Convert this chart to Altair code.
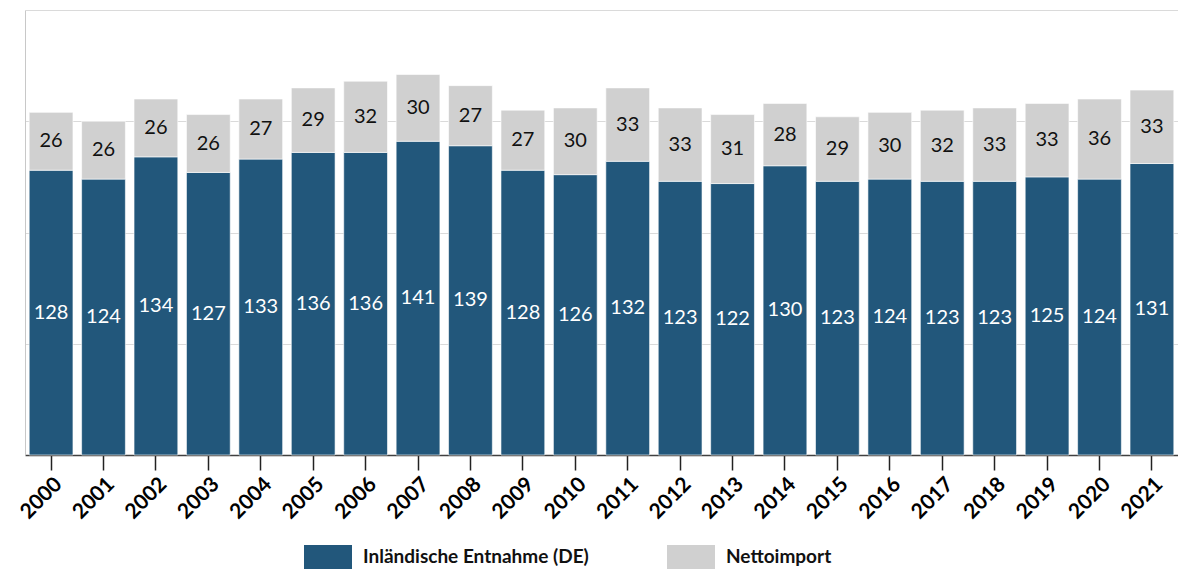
import altair as alt
import pandas as pd

years = [str(y) for y in range(2000, 2022)]
inland = [128, 124, 134, 127, 133, 136, 136, 141, 139, 128, 126, 132, 123, 122, 130, 123, 124, 123, 123, 125, 124, 131]
netimport = [26, 26, 26, 26, 27, 29, 32, 30, 27, 27, 30, 33, 33, 31, 28, 29, 30, 32, 33, 33, 36, 33]
series = ["Inländische Entnahme (DE)", "Nettoimport"]
colors = ["#22577b", "#d0d0d0"]
text_colors = ["#ffffff", "#111111"]
grid_values = [0, 50, 100, 150, 200]

rows = []
for i, y in enumerate(years):
    rows.append({"year": y, "series": series[0], "value": inland[i], "ord": 0})
    rows.append({"year": y, "series": series[1], "value": netimport[i], "ord": 1})
df = pd.DataFrame(rows)

FONT = "Lato"

base = alt.Chart(df).transform_stack(
    stack="value", groupby=["year"], as_=["y0", "y1"], sort=[alt.SortField("ord")]
).transform_calculate(mid="(datum.y0 + datum.y1) / 2")

yaxis = alt.Axis(labels=False, ticks=False, grid=True, gridColor="#dadada",
                 domainColor="#c8c8c8", values=grid_values, minExtent=0, maxExtent=0,
                 title=None)
yscale = alt.Scale(domain=[0, 200], nice=False)

xenc = alt.X("year:N", title=None, sort=years,
             scale=alt.Scale(paddingInner=0.165, paddingOuter=0.08),
             axis=alt.Axis(labelAngle=-45, labelFontSize=21, labelFontWeight="bold",
                           labelColor="#000000", labelFont=FONT, tickSize=15,
                           tickColor="#222222", domainColor="#404040", tickWidth=1.5,
                           domainWidth=1.5, labelPadding=3))

bars = base.mark_bar(stroke="#ffffff", strokeWidth=0.6).encode(
    x=xenc,
    y=alt.Y("y0:Q", scale=yscale, title=None, axis=yaxis),
    y2="y1:Q",
    color=alt.Color("series:N", scale=alt.Scale(domain=series, range=colors), title=None,
                    legend=alt.Legend(orient="none", legendX=279, legendY=523, direction="horizontal",
                                      symbolType="M-1,-0.5H1V0.5H-1Z", symbolSize=2304,
                                      symbolStrokeWidth=0, symbolOpacity=1,
                                      labelFont=FONT, labelFontSize=19, labelFontWeight="bold",
                                      labelColor="#111111", columnPadding=78, labelOffset=11,
                                      labelLimit=0, padding=0)),
)

labels = base.mark_text(font=FONT, fontSize=20, baseline="middle").encode(
    x=alt.X("year:N", sort=years),
    y=alt.Y("mid:Q", scale=yscale, axis=yaxis),
    text="value:Q",
    color=alt.Color("series:N", scale=alt.Scale(domain=series, range=text_colors), legend=None),
)

chart = alt.layer(bars, labels).resolve_scale(color="independent").properties(
    width=1153, height=445,
    autosize=alt.AutoSizeParams(type="none"),
    padding={"left": 17, "top": 2, "right": 0, "bottom": 114}
).configure_view(stroke=None)

chart.save("out.html", embed_options={"renderer": "svg", "actions": False})
